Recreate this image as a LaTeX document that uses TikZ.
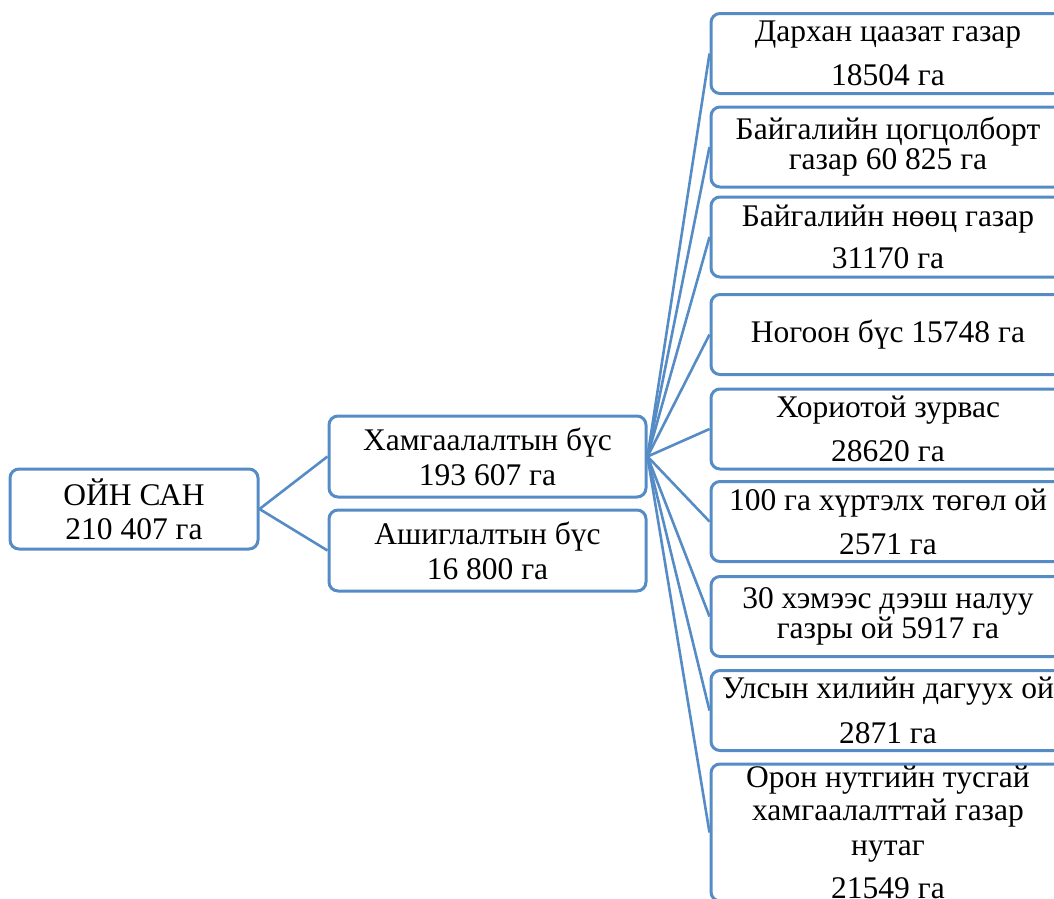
\documentclass[tikz,border=0pt]{standalone}
\usepackage{fontspec}
\setmainfont{Liberation Serif}
\definecolor{boxblue}{HTML}{558CC6}
\begin{document}
\begin{tikzpicture}[x=1pt,y=-1pt,
  txt/.style={inner sep=0pt,align=center,font=\fontsize{31.5}{30}\selectfont},
  box/.style={txt,draw=boxblue,line width=3pt,rounded corners=9pt,fill=white},
  rbox/.style={box,minimum width=354pt,minimum height=80pt},
  link/.style={draw=boxblue,line width=2.6pt}]
\useasboundingbox (0,0) rectangle (1054,898);
\clip (0,0) rectangle (1054,898);
\node[box,minimum width=248pt,minimum height=80pt] (root) at (134,509) {ОЙН САН\\[4pt]210 407 га};
\node[box,minimum width=317pt,minimum height=81pt] (ham) at (487.5,456.5) {Хамгаалалтын бүс\\[5pt]193 607 га};
\node[box,minimum width=317pt,minimum height=81pt] (ash) at (487.5,550.5) {Ашиглалтын бүс\\[5pt]16 800 га};
\node[rbox] (r1) at (888,53.5) {Дархан цаазат газар\\[14pt]18504 га};
\node[rbox] (r2) at (888,147) {Байгалийн цогцолборт\\газар 60 825 га};
\node[rbox] (r3) at (888,237) {Байгалийн нөөц газар\\[12pt]31170 га};
\node[rbox] (r4) at (888,334.5) {Ногоон бүс 15748 га};
\node[rbox] (r5) at (888,429) {Хориотой зурвас\\[14pt]28620 га};
\node[rbox] (r6) at (888,521.5) {100 га хүртэлх төгөл ой\\[14pt]2571 га};
\node[rbox] (r7) at (888,616.5) {30 хэмээс дээш налуу\\газры ой 5917 га};
\node[rbox] (r8) at (888,710.5) {Улсын хилийн дагуух ой\\[15pt]2871 га};
\node[rbox,minimum height=137pt] (r9) at (888,832.5) {};
\node[txt] (r9t) at (888,828) {\raisebox{0pt}[\dimexpr\height+9pt]{Орон нутгийн тусгай}\\[3pt]хамгаалалттай газар\\[5pt]нутаг\\[13pt]21549 га};
\draw[link] (root.east) -- (ham.west);
\draw[link] (root.east) -- (ash.west);
\foreach \r in {r1,r2,r3,r4,r5,r6,r7,r8,r9}
  \draw[link] (ham.east) -- (\r.west);
\end{tikzpicture}
\end{document}
